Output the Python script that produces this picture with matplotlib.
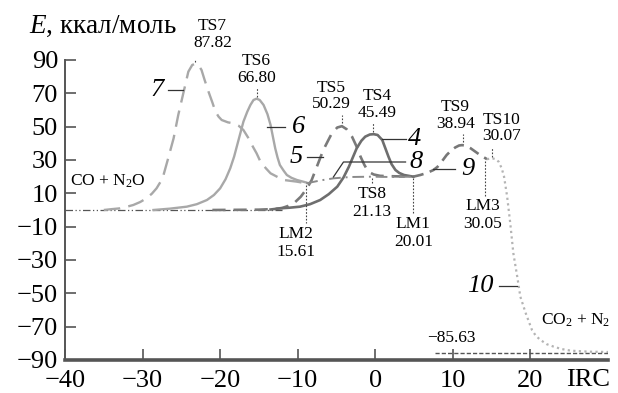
import matplotlib
matplotlib.use("Agg")
import matplotlib.pyplot as plt

plt.rcParams['font.family'] = ['Liberation Serif', 'DejaVu Serif']
plt.rcParams['mathtext.fontset'] = 'custom'
plt.rcParams['mathtext.rm'] = 'Liberation Serif'
plt.rcParams['mathtext.it'] = 'Liberation Serif:italic'
plt.rcParams['lines.dash_joinstyle'] = 'round'
plt.rcParams['lines.solid_joinstyle'] = 'round'

# IRC coordinate / energy (kcal/mol)
x7 = [-35, -34, -32.9, -32, -31.2, -30.3, -29.5, -28.8, -28.2, -27.7, -27.3, -26.7,
      -26, -25.4, -24.7, -24.1, -23.6, -23.2, -22.8, -22.4, -22, -21.5, -21, -20.6,
      -20.2, -19.8, -19, -18.3, -17.6, -17, -16.4, -15.9, -15.3, -14.8, -14.1, -13.5,
      -12.6, -11.8, -10.1, -8.9]
e7 = [0, 0.5, 1, 2, 3, 4.8, 7, 9.8, 13, 16.8, 21, 31, 43, 57, 71, 83, 87, 87.82, 87,
      84, 78, 71, 64.5, 59, 56, 54, 52.6, 52, 50.5, 48, 43.5, 39, 34, 29, 25, 22,
      19.8, 18, 17, 16]

x6 = [-28.6, -26.5, -24.3, -23, -21.7, -20.8, -20, -19.3, -18.7, -18.2, -17.8, -17.4,
      -17, -16.5, -16.1, -15.7, -15.3, -14.9, -14.4, -13.9, -13.5, -13.2, -12.9,
      -12.6, -12.3, -11.8, -11.4, -10.8, -10.1, -8.9]
e6 = [0, 0.8, 2, 3.5, 6, 9, 13, 18.5, 25, 32, 39, 46, 53, 59, 63, 66, 66.80, 66, 63,
      57.5, 51, 44, 37, 31.5, 27, 23.5, 21, 19.3, 18, 16.5]

x5 = [-21, -15, -13, -12, -11.2, -10.5, -9.6, -8.8, -8.2, -7.7, -7.2, -6.7, -6.1,
      -5.6, -4.9, -4.3, -3.7, -3, -2.4, -1.9, -1.4, -0.9, -0.2, 0.6, 1.6, 2.8, 4.9]
e5 = [0, 0.2, 0.6, 1.2, 2.5, 4, 8, 13, 18, 24, 30, 36, 41.5, 46, 49.5, 50.29, 48.5,
      44, 38, 32, 27, 23, 21.3, 20.5, 20.3, 20.2, 20]

x4 = [-13.5, -12.3, -11, -9.7, -8.4, -7.1, -6, -4.9, -4.1, -3.4, -2.9, -2.4, -1.8,
      -1.3, -0.7, -0.2, 0.3, 0.9, 1.3, 1.7, 2.1, 2.6, 3.1, 3.7, 4.9]
e4 = [0.3, 1, 1.4, 2, 3.5, 6, 9.5, 14, 19.5, 26, 31.5, 37, 41.5, 44, 45.3, 45.49, 45,
      42, 37, 32, 27.5, 24, 22.2, 21, 20]

x8 = [-8.9, -7, -5.4, -3.2, -0.4, 2, 4.9]
e8 = [16, 17.8, 19, 19.8, 20, 19.8, 20]

x9 = [4.9, 5.8, 6.7, 7.5, 8, 8.4, 8.8, 9.2, 9.8, 10.3, 10.8, 11.2, 11.7, 12.3, 12.9,
      13.5, 14.4]
e9 = [20, 21, 22.3, 24, 25.8, 28, 30.5, 33, 35.8, 37.5, 38.7, 38.94, 38.5, 37, 35,
      33, 30.5]

x10 = [14.4, 15.1, 15.5, 15.9, 16.3, 16.6, 17, 17.4, 17.8, 18.3, 18.7, 19.4, 20.2,
       20.7, 21.3, 22.1, 23, 24, 25.2, 27.5, 30]
e10 = [30.5, 31, 30.5, 29, 25, 20, 8, -8, -26, -40, -52, -62, -72, -75.5, -78, -80.5,
       -82, -83.4, -84.4, -85, -85.2]

x_ref = [-40, -12]
e_ref = [0, 0]
x_prod = [7.7, 30]
e_prod = [-85.63, -85.63]

# stationary points: name, IRC, energy, energy where the mark sits on the curve
points = [("TS7", -23.2, 87.82, 88), ("TS6", -15.3, 66.80, 67), ("TS5", -4.3, 50.29, 51),
          ("TS4", -0.3, 45.49, 46), ("TS9", 11.3, 38.94, 39.5), ("TS10", 15.1, 30.07, 31),
          ("TS8", -0.4, 21.13, 20), ("LM1", 4.9, 20.01, 20), ("LM2", -8.9, 15.61, 16),
          ("LM3", 14.2, 30.05, 30.5)]

yticks = [90, 70, 50, 30, 10, -10, -30, -50, -70, -90]
xticks = [-40, -30, -20, -10, 0, 10, 20]

fig = plt.figure(figsize=(6.18, 3.93), dpi=100)
ax = fig.add_axes([65/618, 33/393, 543/618, 300/393])

ax.plot(x_ref, e_ref, color="#555555", lw=0.9, linestyle=(0, (6, 2, 1, 2, 1, 2)))
ax.plot(x7, e7, color="#a8a8a8", lw=1.7, linestyle=(0, (7, 3.5)))
ax.plot(x6, e6, color="#a8a8a8", lw=1.7)
ax.plot(x5, e5, color="#7a7a7a", lw=1.9, linestyle=(0, (5, 3)))
ax.plot(x4, e4, color="#6e6e6e", lw=1.9)
ax.plot(x8, e8, color="#8a8a8a", lw=1.4, linestyle=(0, (6, 2.5, 1, 2.5)))
ax.plot(x9, e9, color="#777777", lw=1.9, linestyle=(0, (4, 2.5)))
ax.plot(x10, e10, color="#b4b4b4", lw=1.6, linestyle=(0, (1, 1.5)))
ax.plot(x_prod, e_prod, color="#555555", lw=1.0, linestyle=(0, (3, 1.5)))

lead = dict(color="#444444", lw=0.8, linestyle=(0, (1.5, 1.5)))
fs = 12.5
# label centre and leader length
above = {"TS7": (-21.0, 6), "TS6": (-15.3, 6), "TS5": (-5.7, 6), "TS4": (0.3, 6),
         "TS9": (10.3, 6), "TS10": (16.3, 7)}
below = {"TS8": (-0.4, 4), "LM1": (4.9, 22), "LM2": (-10.2, 24), "LM3": (13.8, 22)}
for name, xp, ev, ep in points:
    if name in above:
        tx, gap = above[name]
        ax.plot([xp, xp], [ep + 1, ep + gap], **lead)
        ax.text(tx, ep + gap + 1.5, f"{name}\n{ev:.2f}", ha="center", va="bottom",
                fontsize=fs, linespacing=1.05)
    else:
        tx, gap = below[name]
        ax.plot([xp, xp], [ep - 1, ep - gap], **lead)
        ax.text(tx, ep - gap - 1.5, f"{name}\n{ev:.2f}", ha="center", va="top",
                fontsize=fs, linespacing=1.15)

ax.text(-39.3, 17.5, r"CO + N$_\mathrm{2}$O", fontsize=fs, ha="left", va="center")
ax.text(21.3, -66, r"CO$_\mathrm{2}$ + N$_\mathrm{2}$", fontsize=fs, ha="left", va="center")
ax.text(9.8, -77, "−85.63", fontsize=fs, ha="center", va="center")

# curve numbers
num = dict(fontsize=19, style="italic", va="center")
ax.plot([-26.7, -24.8], [72, 72], color="#333333", lw=0.9)
ax.text(-27.3, 72, "7", ha="right", **num)
ax.plot([-13.9, -11.6], [50, 50], color="#333333", lw=0.9)
ax.text(-10.8, 50, "6", ha="left", **num)
ax.plot([-8.8, -6.8], [32, 32], color="#333333", lw=0.9)
ax.text(-9.4, 32, "5", ha="right", **num)
ax.plot([0.9, 3.9], [42.6, 42.6], color="#333333", lw=0.9)
ax.text(4.2, 42.6, "4", ha="left", **num)
ax.plot([-5.4, -4.1, 3.9], [19.8, 28.8, 28.8], color="#333333", lw=0.9)
ax.text(4.4, 28.8, "8", ha="left", **num)
ax.plot([7.5, 10.3], [24.6, 24.6], color="#333333", lw=0.9)
ax.text(11.1, 24.6, "9", ha="left", **num)
ax.plot([15.9, 18.3], [-45.6, -45.6], color="#333333", lw=0.9)
ax.text(15.3, -45.6, "10", ha="right", **num)

ax.text(-44.6, 102.5, r"$E$, ккал/моль", fontsize=19.5, ha="left", va="bottom")
ax.text(27.4, -95.5, "IRC", fontsize=19, ha="center", va="top")

ax.set_xlim(-40, 30)
ax.set_ylim(-90, 90)
ax.set_yticks(yticks)
ax.set_xticks(xticks)
ax.set_yticklabels([str(v).replace("-", "−") for v in yticks])
ax.set_xticklabels([str(v).replace("-", "−") for v in xticks])
ax.tick_params(direction="in", length=8, width=1.2, labelsize=19, color="#555555")
ax.tick_params(axis="y", pad=5)
ax.tick_params(axis="x", pad=7)
for lbl in ax.get_xticklabels() + ax.get_yticklabels():
    lbl.set_fontfamily(['Liberation Serif', 'DejaVu Serif'])
ax.spines["top"].set_visible(False)
ax.spines["right"].set_visible(False)
ax.spines["left"].set_color("#555555")
ax.spines["left"].set_linewidth(1.4)
ax.spines["bottom"].set_color("#555555")
ax.spines["bottom"].set_linewidth(2.6)
ax.patch.set_alpha(0)

fig.savefig("out.png", dpi=100)
